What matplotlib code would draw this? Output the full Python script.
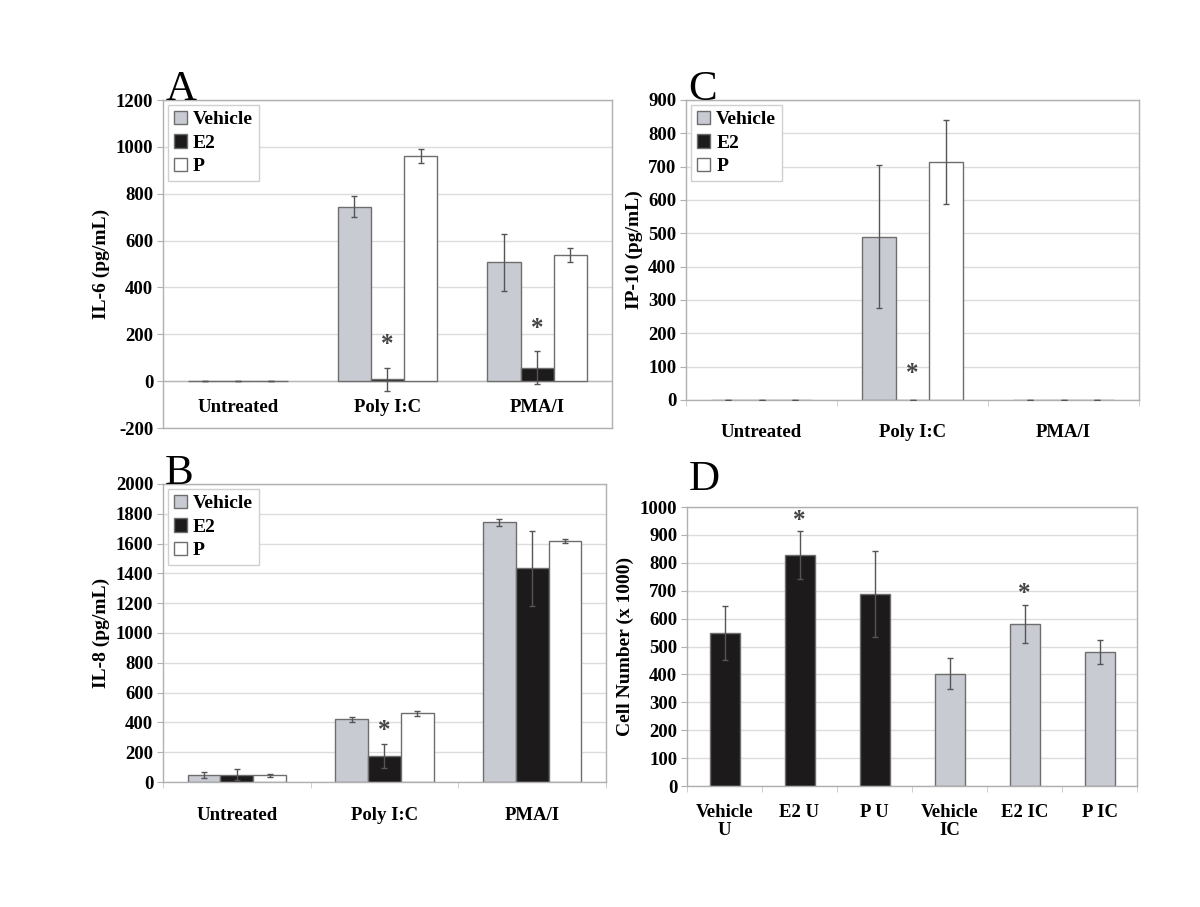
import numpy as np
import matplotlib
matplotlib.use('Agg')
import matplotlib.pyplot as plt
from matplotlib.patches import Patch

plt.rcParams['font.family'] = ['Liberation Serif', 'DejaVu Serif']
plt.rcParams['font.weight'] = 'bold'
plt.rcParams['axes.labelweight'] = 'bold'
plt.rcParams['axes.unicode_minus'] = False

groups = ['Untreated', 'Poly I:C', 'PMA/I']
series = ['Vehicle', 'E2', 'P']

# panel A: IL-6
il6_mean = [[0, 745, 507], [0, 8, 58], [0, 960, 537]]
il6_err = [[0, 45, 122], [0, 48, 72], [0, 30, 30]]
il6_star = [None, 155, 225]

# panel B: IL-8
il8_mean = [[50, 420, 1743], [50, 175, 1433], [45, 460, 1618]]
il8_err = [[20, 15, 25], [38, 80, 250], [12, 18, 15]]
il8_star = [None, 345, None]

# panel C: IP-10
ip10_mean = [[0, 490, 0], [0, 0, 0], [0, 715, 0]]
ip10_err = [[0, 215, 0], [0, 0, 0], [0, 126, 0]]
ip10_star = [None, 80, None]

# panel D: cell number
cell_labels = ['Vehicle\nU', 'E2 U', 'P U', 'Vehicle\nIC', 'E2 IC', 'P IC']
cell_mean = [548, 828, 688, 403, 580, 480]
cell_err = [97, 85, 155, 55, 68, 43]
cell_star = [None, 950, None, None, 690, None]

gray = '#c9cbd3'
black = '#1c1a1b'
colors = [gray, black, 'white']
frame_col = '#b0b0b0'
err_col = '#555555'


def style_axes(ax, ymin, ymax, step, ncat):
    ax.set_ylim(ymin, ymax)
    ax.set_xlim(-0.5, ncat - 0.5)
    ax.set_yticks(np.arange(ymin, ymax + 1, step))
    ax.yaxis.grid(True, color='#dcdcdc', linewidth=1.0)
    ax.set_axisbelow(True)
    for s in ax.spines.values():
        s.set_color(frame_col)
        s.set_linewidth(1.0)
    ax.tick_params(axis='y', labelsize=13.5, length=4, color=frame_col, pad=3)
    ax.set_xticks(np.arange(-0.5, ncat, 1.0), minor=True)
    ax.tick_params(axis='x', which='minor', length=4, color='#c8c8c8')
    ax.tick_params(axis='x', which='major', length=0, labelsize=13.5)


def grouped(ax, means, errs, stars, star_series=1):
    x = np.arange(len(groups))
    w = 0.222
    for i, (m, e) in enumerate(zip(means, errs)):
        ax.bar(x + (i - 1) * w, m, w, color=colors[i], edgecolor='#6e6e6e',
               linewidth=1.0, label=series[i], zorder=2)
        ax.errorbar(x + (i - 1) * w, m, yerr=e, fmt='none', ecolor=err_col,
                    elinewidth=1.0, capsize=2.5, capthick=1.0, zorder=3)
    for j, s in enumerate(stars):
        if s is not None:
            ax.text(x[j] + (star_series - 1) * w, s, '*', ha='center', va='center',
                    fontsize=18, color='#444444')
    handles = [Patch(facecolor=c, edgecolor='#6e6e6e', label=l) for c, l in zip(colors, series)]
    ax.legend(handles=handles, loc='upper left', fontsize=14, handlelength=0.7,
              handleheight=0.7, handletextpad=0.3, labelspacing=0.3,
              borderpad=0.3, borderaxespad=0.25, frameon=True, fancybox=False,
              edgecolor='#d0d0d0', framealpha=1)


fig = plt.figure(figsize=(12, 9.07), dpi=100)

# A
axA = fig.add_axes([0.1358, 0.5281, 0.3742, 0.3616])
style_axes(axA, -200, 1200, 200, 3)
axA.axhline(0, color='#b8b8b8', linewidth=1.0, zorder=1)
grouped(axA, il6_mean, il6_err, il6_star)
axA.set_xticks(np.arange(3))
axA.set_xticklabels([])
axA.tick_params(axis='x', which='minor', length=0)
for j, g in enumerate(groups):
    axA.annotate(g, (j, 0), xytext=(0, -19), textcoords='offset points',
                 ha='center', va='center', fontsize=13.5)
axA.set_ylabel('IL-6 (pg/mL)', fontsize=14, labelpad=4)

# C
axC = fig.add_axes([0.5717, 0.5590, 0.3775, 0.3308])
style_axes(axC, 0, 900, 100, 3)
grouped(axC, ip10_mean, ip10_err, ip10_star)
axC.set_xticks(np.arange(3))
axC.set_xticklabels(groups)
axC.tick_params(axis='x', which='major', pad=17)
axC.set_ylabel('IP-10 (pg/mL)', fontsize=14, labelpad=4)

# B
axB = fig.add_axes([0.1358, 0.1378, 0.3692, 0.3286])
style_axes(axB, 0, 2000, 200, 3)
grouped(axB, il8_mean, il8_err, il8_star)
axB.set_xticks(np.arange(3))
axB.set_xticklabels(groups)
axB.tick_params(axis='x', which='major', pad=18)
axB.set_ylabel('IL-8 (pg/mL)', fontsize=14, labelpad=4)

# D
axD = fig.add_axes([0.5725, 0.1334, 0.375, 0.3076])
style_axes(axD, 0, 1000, 100, 6)
xd = np.arange(len(cell_labels))
dcol = [black] * 3 + [gray] * 3
axD.bar(xd, cell_mean, 0.4, color=dcol, edgecolor='#6e6e6e', linewidth=1.0, zorder=2)
axD.errorbar(xd, cell_mean, yerr=cell_err, fmt='none', ecolor=err_col,
             elinewidth=1.0, capsize=2.5, capthick=1.0, zorder=3)
for j, s in enumerate(cell_star):
    if s is not None:
        axD.text(xd[j], s, '*', ha='center', va='center', fontsize=18, color='#444444')
axD.set_xticks(xd)
axD.set_xticklabels(cell_labels, linespacing=1.05)
axD.tick_params(axis='x', which='major', pad=13)
axD.set_ylabel('Cell Number (x 1000)', fontsize=14, labelpad=4)

# panel letters
for ax, letter, yl in [(axA, 'A', 1.0), (axC, 'C', 1.0), (axB, 'B', 1.0), (axD, 'D', 1.06)]:
    ax.text(0.005, yl, letter, transform=ax.transAxes, fontsize=31,
            fontweight='normal', ha='left', va='baseline')

fig.savefig('out.png', dpi=100, facecolor='white')
